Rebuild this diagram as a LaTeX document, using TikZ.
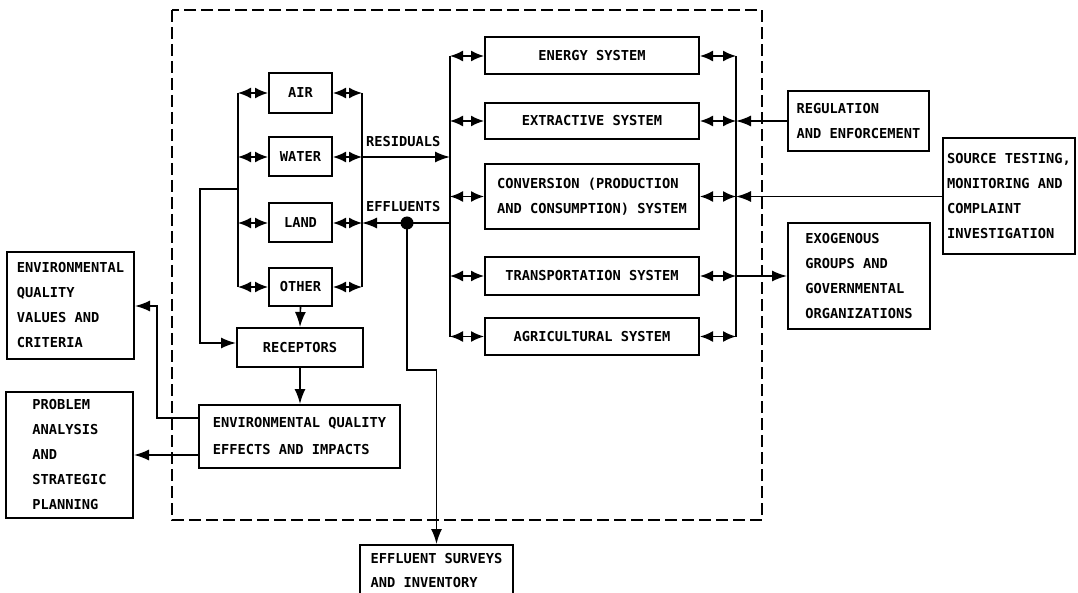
\documentclass[tikz,border=0pt]{standalone}
\usepackage{fontspec}
\setmonofont{DejaVu Sans Mono}
\usetikzlibrary{arrows.meta}
\newcommand\dgfont{\ttfamily\bfseries\fontsize{13.7}{25}\selectfont}
\tikzset{
  blk/.style={draw, line width=2pt, inner sep=0pt, align=left, font=\dgfont},
  con/.style={line width=1.6pt},
  tip/.style={con, -{Latex[length=15pt,width=11pt]}},
  both/.style={con, {Latex[length=13pt,width=11pt]}-{Latex[length=13pt,width=11pt]}},
  lbl/.style={font=\dgfont, inner sep=0pt},
  frame/.style={line width=2.6pt, dash pattern=on 12pt off 5pt}
}
\begin{document}
\begin{tikzpicture}[x=1pt,y=-1pt]
\useasboundingbox (0,0) rectangle (1078,593);
\clip (0,0) rectangle (1078,593);

% system boundary
\draw[frame] (172,10) rectangle (762,520);

% environmental media
\node[blk, minimum width=63pt, minimum height=40pt] (air)   at (300.5,93)  {AIR};
\node[blk, minimum width=63pt, minimum height=39pt] (water) at (300.5,157) {WATER};
\node[blk, minimum width=63pt, minimum height=39pt] (land)  at (300.5,223) {LAND};
\node[blk, minimum width=63pt, minimum height=38pt] (other) at (300.5,287) {OTHER};
\node[blk, minimum width=126pt, minimum height=39pt] (rec) at (300,347.5) {RECEPTORS};
\node[blk, minimum width=201pt, minimum height=63pt, font=\ttfamily\bfseries\fontsize{13.7}{27}\selectfont] (eqe) at (299.5,436.5)
  {ENVIRONMENTAL QUALITY\\EFFECTS AND IMPACTS};

% outer boxes on the left
\node[blk, minimum width=127pt, minimum height=107pt] (eqv) at (70.5,305.5)
  {ENVIRONMENTAL\\QUALITY\\VALUES AND\\CRITERIA};
\node[blk, minimum width=127pt, minimum height=126pt] (prob) at (69.5,455)
  {PROBLEM\\ANALYSIS\\AND\\STRATEGIC\\PLANNING};

% activity systems
\node[blk, minimum width=214pt, minimum height=37pt] (ene) at (592,56)    {ENERGY SYSTEM};
\node[blk, minimum width=214pt, minimum height=36pt] (ext) at (592,121)   {EXTRACTIVE SYSTEM};
\node[blk, minimum width=214pt, minimum height=65pt] (con) at (592,196.5) {CONVERSION (PRODUCTION\\AND CONSUMPTION) SYSTEM};
\node[blk, minimum width=214pt, minimum height=38pt] (tra) at (592,276)   {TRANSPORTATION SYSTEM};
\node[blk, minimum width=214pt, minimum height=37pt] (agr) at (592,336.5) {AGRICULTURAL SYSTEM};

% outer boxes on the right
\node[blk, minimum width=141pt, minimum height=60pt] (reg) at (858.5,121)
  {REGULATION\\AND ENFORCEMENT};
\node[blk, minimum width=132pt, minimum height=116pt] (src) at (1009,196.5)
  {SOURCE TESTING,\\MONITORING AND\\COMPLAINT\\INVESTIGATION};
\node[blk, minimum width=142pt, minimum height=105pt] (exo) at (859,276)
  {EXOGENOUS\\GROUPS AND\\GOVERNMENTAL\\ORGANIZATIONS};

% outer box at the bottom
\node[blk, minimum width=153pt, minimum height=52pt, font=\ttfamily\bfseries\fontsize{13.7}{24}\selectfont] (eff) at (436.5,571)
  {EFFLUENT SURVEYS\\AND INVENTORY};

% buses of the media group
\coordinate (lbT) at (238,93);  \coordinate (lbB) at (238,287);
\coordinate (rbT) at (362,93);  \coordinate (rbB) at (362,287);
\draw[con] (lbT) -- (lbB);
\draw[con] (rbT) -- (rbB);
\foreach \m in {air,water,land,other}{
  \draw[both] (\m.west -| lbT) -- (\m.west);
  \draw[both] (\m.east) -- (\m.east -| rbT);
}

% buses of the systems group
\coordinate (sbT) at (450,56);  \coordinate (sbB) at (450,337);
\coordinate (tbT) at (736,56);  \coordinate (tbB) at (736,337);
\draw[con] (sbT) -- (sbB);
\draw[con] (tbT) -- (tbB);
\foreach \m in {ene,ext,con,tra,agr}{
  \draw[both] (\m.west -| sbT) -- (\m.west);
  \draw[both] (\m.east) -- (\m.east -| tbT);
}

% residuals and effluents
\coordinate (resA) at (362,157);
\draw[tip] (resA) -- (resA -| sbT);
\node[lbl, anchor=south west] (resl) at (366,147) {RESIDUALS};
\coordinate (effA) at (450,223);
\draw[tip] (effA) -- (effA -| rbT);
\node[lbl, anchor=south west] (effl) at (366,212) {EFFLUENTS};
\coordinate (dot) at (407,223);
\fill (dot) circle (6.5pt);
\coordinate (j1) at (407,370);
\draw[tip] (dot) -- (j1) -- (j1 -| eff.north) -- (eff.north);

% media to receptors and effects
\coordinate (fbA) at (238,189);
\coordinate (fbB) at (200,189);
\coordinate (fbC) at (200,343);
\draw[tip] (fbA) -- (fbB) -- (fbC) -- (fbC -| rec.west);
\draw[tip] (other.south) -- (rec.north);
\draw[tip] (rec.south) -- (rec.south |- eqe.north);

% effects to the outer boxes on the left
\coordinate (evA) at (199,418);
\coordinate (evB) at (157,418);
\coordinate (evC) at (157,306);
\draw[tip] (evA) -- (evB) -- (evC) -- (evC -| eqv.east);
\draw[tip] (eqe.west |- prob.east) -- (prob.east);

% links to the outer boxes on the right
\draw[tip] (reg.west) -- (reg.west -| tbT);
\draw[tip] (src.west) -- (src.west -| tbT);
\draw[tip] (tra.east -| tbT) -- (exo.west);
\end{tikzpicture}
\end{document}
